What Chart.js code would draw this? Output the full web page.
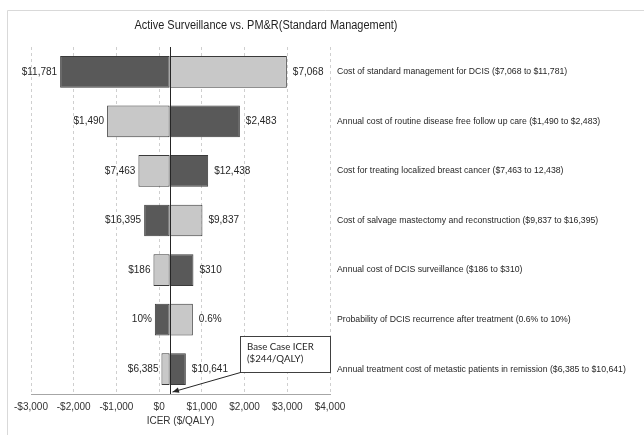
<!DOCTYPE html>
<html>
<head>
<meta charset="utf-8">
<script src="https://cdn.jsdelivr.net/npm/chart.js@4/dist/chart.umd.min.js"></script>
<style>
  html, body { margin: 0; padding: 0; background: #ffffff; }
  #wrap { width: 644px; height: 435px; }
</style>
</head>
<body>
<div id="wrap"><canvas id="c" width="644" height="435"></canvas></div>
<script>
// ---- data ----
const chartTitle = 'Active Surveillance vs. PM&R(Standard Management)';
const categories = [
  'Cost of standard management for DCIS ($7,068 to $11,781)',
  'Annual cost of routine disease free follow up care ($1,490 to $2,483)',
  'Cost for treating localized breast cancer ($7,463 to 12,438)',
  'Cost of salvage mastectomy and reconstruction ($9,837 to $16,395)',
  'Annual cost of DCIS surveillance ($186 to $310)',
  'Probability of DCIS recurrence after treatment (0.6% to 10%)',
  'Annual treatment cost of metastic patients in remission ($6,385 to $10,641)'
];
const baseCaseICER = 244;
const leftEnd  = [-2318, -1218, -485, -351, -133, -101, 54];
const rightEnd = [2990, 1890, 1148, 1014, 803, 789, 625];
const leftLabels  = ['$11,781', '$1,490', '$7,463', '$16,395', '$186', '10%', '$6,385'];
const rightLabels = ['$7,068', '$2,483', '$12,438', '$9,837', '$310', '0.6%', '$10,641'];
const leftShade = ['dark', 'light', 'light', 'dark', 'light', 'dark', 'light'];
const tickValues = [-3000, -2000, -1000, 0, 1000, 2000, 3000, 4000];
const tickLabels = ['-$3,000', '-$2,000', '-$1,000', '$0', '$1,000', '$2,000', '$3,000', '$4,000'];
const axisTitle = 'ICER ($/QALY)';
const annotationLines = ['Base Case ICER', '($244/QALY)'];

// ---- styles ----
const DARK = '#595959', LIGHT = '#c8c8c8', EDGE = '#3a3a3a';
const FONT = '"Liberation Sans", Arial, sans-serif';
const shadeColor = s => s === 'dark' ? DARK : LIGHT;
const other = s => s === 'dark' ? 'light' : 'dark';

const decorPlugin = {
  id: 'decor',
  beforeDraw(chart) {
    const ctx = chart.ctx;
    ctx.save();
    ctx.strokeStyle = '#d9d9d9';
    ctx.lineWidth = 1;
    ctx.beginPath();
    ctx.moveTo(7.5, 435);
    ctx.lineTo(7.5, 10.5);
    ctx.lineTo(644, 10.5);
    ctx.stroke();
    ctx.fillStyle = '#1f1f1f';
    ctx.font = '12.5px ' + FONT;
    ctx.textAlign = 'center';
    ctx.textBaseline = 'middle';
    ctx.fillText(chartTitle, 266, 26, 263);
    ctx.restore();
  },
  afterDatasetsDraw(chart) {
    const ctx = chart.ctx;
    const xs = chart.scales.x, ys = chart.scales.y, area = chart.chartArea;
    ctx.save();
    // base case line
    const bx = Math.round(xs.getPixelForValue(baseCaseICER)) + 0.5;
    ctx.strokeStyle = '#262626';
    ctx.lineWidth = 1;
    ctx.beginPath();
    ctx.moveTo(bx, area.top);
    ctx.lineTo(bx, area.bottom);
    ctx.stroke();

    // value labels
    ctx.fillStyle = '#262626';
    ctx.font = '10px ' + FONT;
    ctx.textBaseline = 'middle';
    categories.forEach((cat, i) => {
      const y = ys.getPixelForValue(i);
      ctx.textAlign = 'right';
      ctx.fillText(leftLabels[i], xs.getPixelForValue(leftEnd[i]) - 3, y);
      ctx.textAlign = 'left';
      ctx.fillText(rightLabels[i], xs.getPixelForValue(rightEnd[i]) + 6, y);
    });
    // category labels
    ctx.font = '8.7px ' + FONT;
    ctx.textAlign = 'left';
    categories.forEach((cat, i) => {
      ctx.fillText(cat, area.right + 7, ys.getPixelForValue(i));
    });

    // annotation box
    const boxL = area.right - 90, boxT = area.bottom - 58, boxW = 90, boxH = 36;
    ctx.fillStyle = '#ffffff';
    ctx.fillRect(boxL, boxT, boxW, boxH);
    ctx.strokeStyle = '#404040';
    ctx.strokeRect(boxL + 0.5, boxT + 0.5, boxW, boxH);
    ctx.fillStyle = '#262626';
    ctx.font = '9.7px Lato, "Open Sans", sans-serif';
    ctx.textAlign = 'left';
    ctx.fillText(annotationLines[0], boxL + 7, boxT + 11);
    ctx.fillText(annotationLines[1], boxL + 7, boxT + 23);
    // arrow
    const tipX = bx + 2, tipY = area.bottom - 2;
    const sx = boxL + 0.5, sy = boxT + boxH + 0.5;
    ctx.strokeStyle = '#262626';
    ctx.beginPath();
    ctx.moveTo(sx, sy);
    ctx.lineTo(tipX, tipY);
    ctx.stroke();
    const ang = Math.atan2(tipY - sy, tipX - sx);
    ctx.fillStyle = '#262626';
    ctx.beginPath();
    ctx.moveTo(tipX, tipY);
    ctx.lineTo(tipX - 7 * Math.cos(ang - 0.4), tipY - 7 * Math.sin(ang - 0.4));
    ctx.lineTo(tipX - 7 * Math.cos(ang + 0.4), tipY - 7 * Math.sin(ang + 0.4));
    ctx.closePath();
    ctx.fill();
    ctx.restore();
  }
};

new Chart(document.getElementById('c'), {
  type: 'bar',
  data: {
    labels: categories,
    datasets: [
      {
        label: 'left',
        data: leftEnd.map(v => [v, baseCaseICER]),
        backgroundColor: leftShade.map(shadeColor),
        borderColor: EDGE,
        borderWidth: 1,
        borderSkipped: false,
        grouped: false,
        barPercentage: 0.64,
        categoryPercentage: 1
      },
      {
        label: 'right',
        data: rightEnd.map(v => [baseCaseICER, v]),
        backgroundColor: leftShade.map(s => shadeColor(other(s))),
        borderColor: EDGE,
        borderWidth: 1,
        borderSkipped: false,
        grouped: false,
        barPercentage: 0.64,
        categoryPercentage: 1
      }
    ]
  },
  options: {
    indexAxis: 'y',
    responsive: false,
    animation: false,
    devicePixelRatio: 1,
    layout: { padding: { left: 31, right: 314, top: 47, bottom: 8 } },
    plugins: {
      legend: { display: false },
      tooltip: { enabled: false },
      title: { display: false }
    },
    scales: {
      x: {
        type: 'linear',
        min: -3000,
        max: 4000,
        afterBuildTicks(scale) { scale.ticks = tickValues.map(v => ({ value: v })); },
        ticks: {
          padding: 7,
          autoSkip: false,
          maxRotation: 0,
          minRotation: 0,
          color: '#333333',
          font: { size: 10, family: FONT },
          callback: (v) => tickLabels[tickValues.indexOf(v)]
        },
        grid: { display: true, drawOnChartArea: true, color: '#cfcfcf', drawTicks: false, lineWidth: 1 },
        border: { display: true, color: '#a6a6a6', dash: [3, 3] },
        title: {
          display: true,
          text: axisTitle,
          color: '#333333',
          font: { size: 10, family: FONT },
          padding: { top: -5, bottom: 0 }
        }
      },
      y: {
        display: false,
        offset: true,
        grid: { display: false }
      }
    }
  },
  plugins: [decorPlugin]
});
</script>
</body>
</html>
